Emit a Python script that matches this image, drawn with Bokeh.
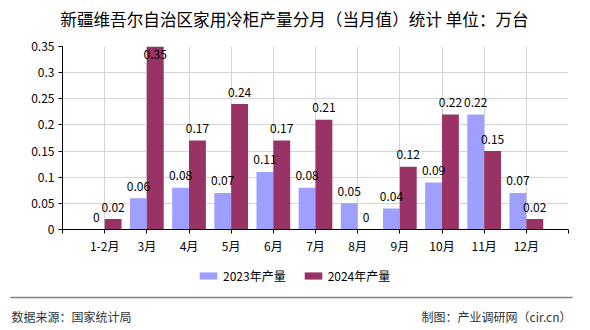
from bokeh.plotting import figure
from bokeh.models import (ColumnDataSource, Range1d, FixedTicker, Label, Legend, LegendItem)
from bokeh.layouts import column
from bokeh.embed import file_html
from bokeh.resources import INLINE
from bokeh.core.properties import value

categories = ["1-2月", "3月", "4月", "5月", "6月", "7月", "8月", "9月", "10月", "11月", "12月"]
y2023 = [0, 0.06, 0.08, 0.07, 0.11, 0.08, 0.05, 0.04, 0.09, 0.22, 0.07]
y2024 = [0.02, 0.35, 0.17, 0.24, 0.17, 0.21, 0, 0.12, 0.22, 0.15, 0.02]
series_names = ["2023年产量", "2024年产量"]
y_ticks = [0, 0.05, 0.1, 0.15, 0.2, 0.25, 0.3, 0.35]
y_tick_labels = ["0", "0.05", "0.1", "0.15", "0.2", "0.25", "0.3", "0.35"]

title_text = "新疆维吾尔自治区家用冷柜产量分月（当月值）统计 单位：万台"
source_text = "数据来源：国家统计局"
credit_text = "制图：产业调研网（cir.cn）"

C2023 = "#9f9fff"
C2024 = "#993366"
FONT = "Noto Sans CJK SC"

W = 590
HEAD_H = 36
MAIN_H = 224          # from y=36 to y=260
FOOT_H = 330 - HEAD_H - MAIN_H
FL, FR = 62, 568
FT, FB = 46 - HEAD_H, 229 - HEAD_H   # frame top/bottom inside main figure
ymax = 0.35
px_per_unit = (FB - FT) / ymax


def bare_fig(h):
    f = figure(width=W, height=h, output_backend="svg", toolbar_location=None,
               x_range=Range1d(0, W), y_range=Range1d(h, 0),
               x_axis_location=None, y_axis_location=None,
               min_border=0, min_border_left=0, min_border_right=0,
               min_border_top=0, min_border_bottom=0)
    f.grid.visible = False
    f.outline_line_color = None
    f.background_fill_color = "white"
    f.border_fill_color = "white"
    f.frame_align = False
    return f

# header with title
head = bare_fig(HEAD_H)
head.add_layout(Label(x=294, y=18, text=title_text, text_align="center", text_baseline="middle",
                      text_font=FONT, text_font_size="16.6px", text_color="#000000"))

n = len(categories)
xs = list(range(1, n + 1))
x23 = [x - 0.2 for x in xs]
x24 = [x + 0.2 for x in xs]


def offs(vals):
    return [-12 if (ymax - v) * px_per_unit >= 20 else 8 for v in vals]

src = ColumnDataSource(dict(
    x=xs, x23=x23, x24=x24, y23=y2023, y24=y2024,
    t23=[f"{v:g}" for v in y2023], t24=[f"{v:g}" for v in y2024],
    o23=offs(y2023), o24=offs(y2024),
))

p = figure(width=W, height=MAIN_H, output_backend="svg", toolbar_location=None,
           x_range=Range1d(0, n + 1), y_range=Range1d(0, ymax),
           min_border_left=FL, min_border_right=W - FR,
           min_border_top=FT, min_border_bottom=MAIN_H - FB)
p.outline_line_color = None
p.background_fill_color = "white"
p.border_fill_color = "white"
p.frame_align = False

p.vbar(x="x23", top="y23", width=0.4, source=src, fill_color=C2023, line_color=None)
p.vbar(x="x24", top="y24", width=0.4, source=src, fill_color=C2024, line_color=None)

for xc, yc, tc, oc in (("x23", "y23", "t23", "o23"), ("x24", "y24", "t24", "o24")):
    p.text(x=xc, y=yc, text=tc, y_offset=oc, source=src,
           text_align="center", text_baseline="middle",
           text_font=value(FONT), text_font_size="12px", text_color="#000000")

p.xaxis.ticker = FixedTicker(ticks=list(range(0, n + 2)))
overrides = {i: "" for i in range(0, n + 2)}
for i, c in enumerate(categories):
    overrides[i + 1] = c
p.xaxis.major_label_overrides = overrides
p.yaxis.ticker = FixedTicker(ticks=y_ticks)
p.yaxis.major_label_overrides = {t: l for t, l in zip(y_ticks, y_tick_labels)}
for ax in (p.xaxis, p.yaxis):
    ax.axis_line_color = "#000000"
    ax.major_tick_line_color = "#000000"
    ax.major_tick_out = 4
    ax.major_tick_in = 0
    ax.minor_tick_line_color = None
    ax.major_label_text_font = FONT
    ax.major_label_text_font_size = "12px"
    ax.major_label_text_color = "#000000"
p.yaxis.major_label_standoff = 4
p.xaxis.major_label_standoff = 3

p.xgrid.ticker = FixedTicker(ticks=list(range(1, n + 2)))
p.ygrid.ticker = FixedTicker(ticks=y_ticks)
p.grid.grid_line_color = "#d4d4d4"
p.grid.grid_line_width = 1

# footer with legend, rule and source texts
foot = bare_fig(FOOT_H)
d23 = foot.vbar(x=[-1000], top=[0], width=1, fill_color=C2023, line_color=None)
d24 = foot.vbar(x=[-1000], top=[0], width=1, fill_color=C2024, line_color=None)
legend = Legend(items=[LegendItem(label=series_names[0], renderers=[d23], index=0),
                       LegendItem(label=series_names[1], renderers=[d24], index=0)],
                orientation="horizontal", location=(197, FOOT_H - 24),
                glyph_width=22, glyph_height=9, label_standoff=4, spacing=16,
                padding=0, margin=0, border_line_color=None, background_fill_alpha=0,
                label_text_font=FONT, label_text_font_size="12px", label_height=12,
                label_text_color="#000000")
foot.add_layout(legend, "center")
foot.segment(x0=[10], y0=[37], x1=[572], y1=[37], line_color="#808080", line_width=1.5)
foot.add_layout(Label(x=11, y=56, text=source_text, text_align="left", text_baseline="middle",
                      text_font=FONT, text_font_size="12px", text_color="#333333"))
foot.add_layout(Label(x=571, y=56, text=credit_text, text_align="right", text_baseline="middle",
                      text_font=FONT, text_font_size="12px", text_color="#333333"))

layout = column(head, p, foot, spacing=0)
open("out.html", "w").write(file_html(layout, INLINE))
